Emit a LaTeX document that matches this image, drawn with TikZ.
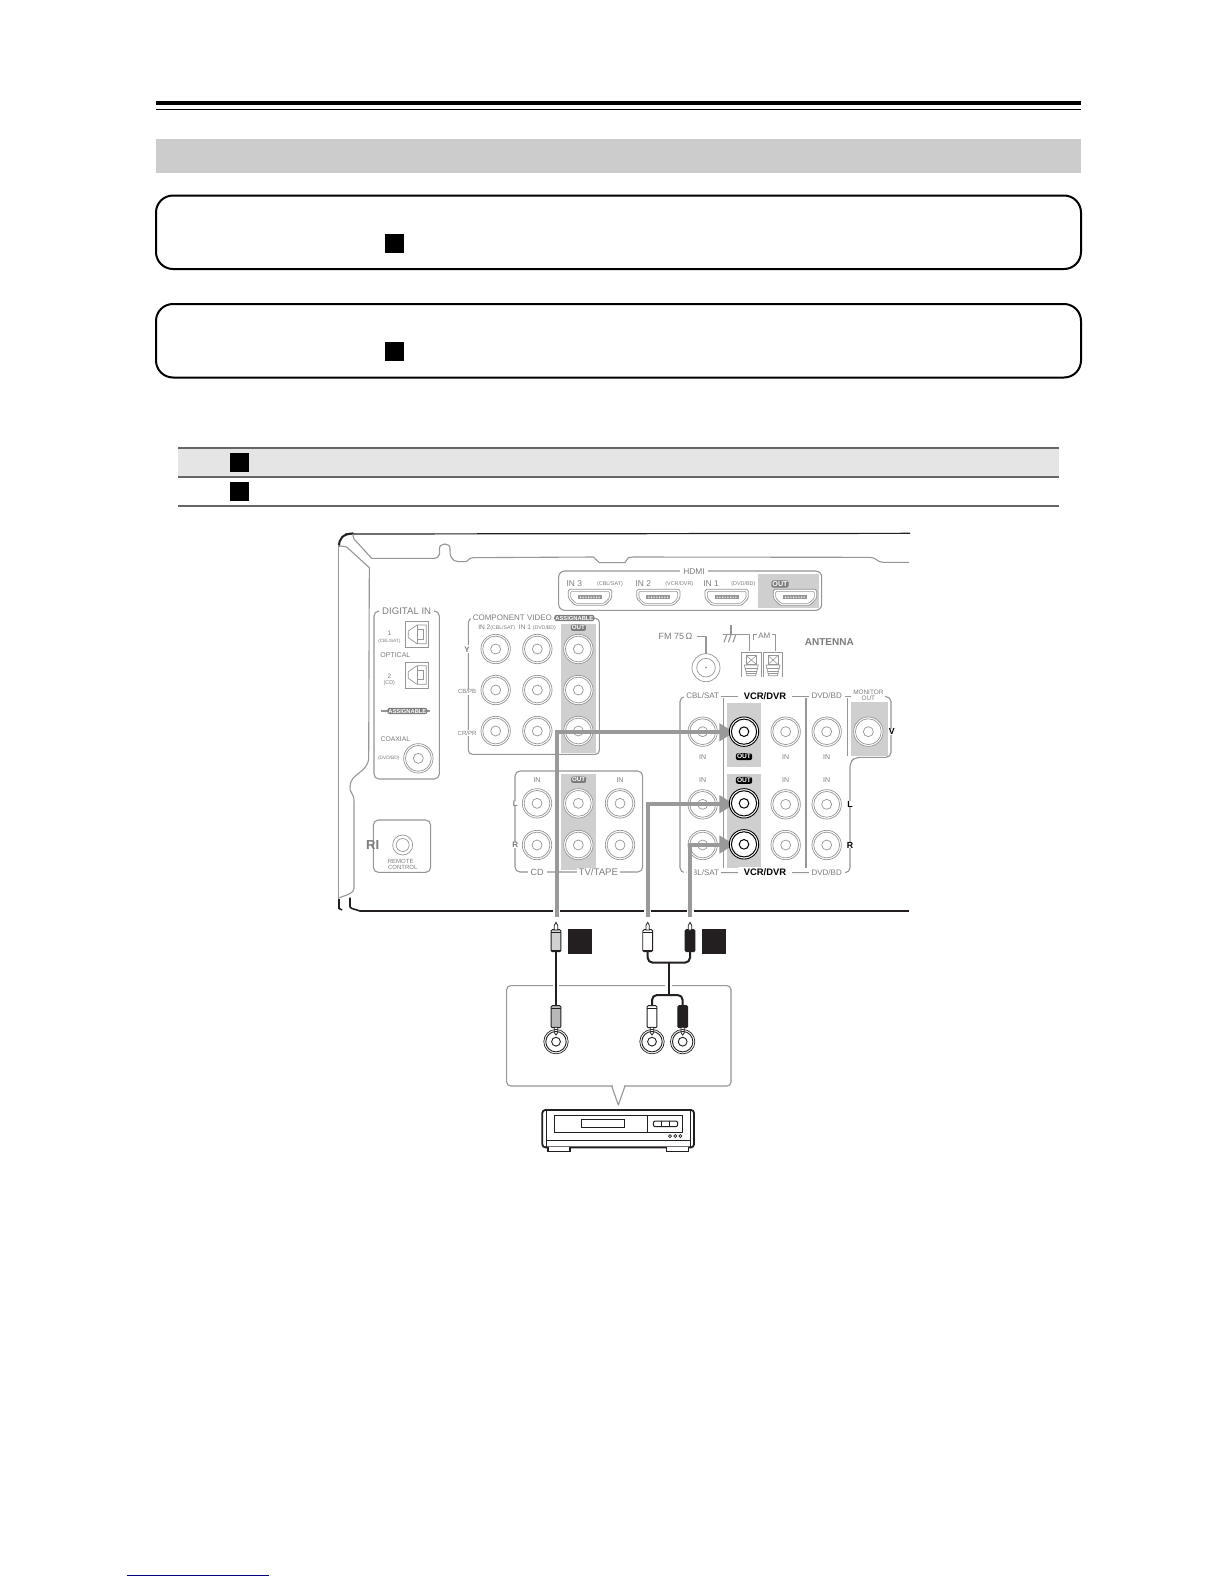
\documentclass[tikz,border=0pt]{standalone}
\usepackage{fontspec}
\setmainfont{Liberation Sans}
\usetikzlibrary{arrows.meta}
\definecolor{pg}{HTML}{7C7C7C}
\definecolor{pl}{HTML}{969696}
\definecolor{strip}{HTML}{CFCFCF}
\definecolor{arrowg}{HTML}{999999}
\definecolor{ink}{HTML}{231F20}
\newcounter{lc}
\newcommand{\fs}[1]{\fontsize{#1}{#1}\selectfont}
\tikzset{
  zA/.style={shift={(330,525)},x=0.16667pt,y=-0.16667pt},
  zB/.style={shift={(620,525)},x=0.16667pt,y=-0.16667pt},
  zC/.style={shift={(490,900)},x=0.16667pt,y=-0.16667pt},
  outl/.style={draw=pl,line width=0.55pt,line join=round},
  edge/.style={draw=ink,line width=0.6pt},
  lbl/.style={text=pg,inner sep=0pt,align=center},
  pill/.style={fill=pg,text=white,rounded corners=1pt,inner sep=0.5pt,font=\bfseries},
  bpill/.style={fill=black,text=white,rounded corners=1.2pt,inner sep=0.6pt,font=\bfseries},
  ringa/.style={circle,draw=pl,line width=0.35pt,inner sep=0pt,minimum size=#1},
  ringb/.style={circle,draw=black,line width=0.5pt,inner sep=0pt,minimum size=#1},
  cable/.style={draw=arrowg,line width=2pt,-{Triangle[length=7.5pt,width=8.6pt]},shorten >=4.8pt},
  cord/.style={draw=ink,line width=1pt,line join=round},
  plugbody/.style={draw=ink,line width=0.45pt,rounded corners=0.6pt,inner sep=0pt,minimum width=4.9pt,minimum height=11pt},
  blacksq/.style={fill=black,inner sep=0pt,minimum width=#1,minimum height=#1},
  inksq/.style={fill=ink,inner sep=0pt,minimum width=11.8pt,minimum height=12.3pt},
}
% gray jack
\newcommand{\jack}[2]{\stepcounter{lc}%
  \node[ringa=14.7pt,fill=white] (j\thelc) at (#1,#2) {};
  \node[ringa=12.9pt] (jm\thelc) at (#1,#2) {};
  \node[ringa=5pt] (ji\thelc) at (#1,#2) {};}
% black jack
\newcommand{\bjack}[2]{\stepcounter{lc}%
  \node[ringb=14.7pt,fill=white,line width=.45pt] (j\thelc) at (#1,#2) {};
  \node[ringb=12.6pt] (jm\thelc) at (#1,#2) {};
  \node[ringb=4.8pt] (ji\thelc) at (#1,#2) {};}
% small jack under the cables
\newcommand{\sjack}[2]{\stepcounter{lc}%
  \node[ringb=12.2pt,draw=ink,line width=.35pt] (j\thelc) at (#1,#2) {};
  \node[ringb=10.2pt,draw=ink,line width=.45pt] (jm\thelc) at (#1,#2) {};
  \node[ringb=4.4pt,draw=ink,line width=.45pt] (ji\thelc) at (#1,#2) {};}
\newcommand{\lab}[4][]{\stepcounter{lc}\node[lbl,font=\fs{#2},#1] (t\thelc) at (#4) {#3};}
\newcommand{\hdmi}[2]{%
  \draw[pl,line width=0.4pt,fill=white,rounded corners=0.8pt] (#1-65,#2-24) -- (#1+65,#2-24) -- (#1+65,#2+3) -- (#1+45,#2+24) -- (#1-45,#2+24) -- (#1-65,#2+3) -- cycle;
  \draw[pl,line width=0.3pt,rounded corners=0.6pt] (#1-58,#2-18) -- (#1+58,#2-18) -- (#1+58,#2+2) -- (#1+42,#2+18) -- (#1-42,#2+18) -- (#1-58,#2+2) -- cycle;
  \fill[pl] (#1-36,#2-6) rectangle (#1+36,#2+5);
  \fill[white] \foreach \k in {-30,-22,...,30} {(#1+\k,#2-2) rectangle ++(3,4)};}
\newcommand{\optical}[2]{%
  \draw[pl,line width=0.45pt] (#1,#2) rectangle ++(71,77);
  \draw[pl,line width=0.35pt] (#1+10,#2+28) -- (#1+36,#2+10) -- (#1+64,#2+10) -- (#1+64,#2+66) -- (#1+36,#2+66) -- (#1+10,#2+48) -- cycle;
  \draw[pl,line width=0.35pt] (#1+36,#2+24) -- (#1+54,#2+24) -- (#1+54,#2+52) -- (#1+36,#2+52) -- cycle;
  \draw[pl,line width=0.35pt] (#1+36,#2+10) -- (#1+36,#2+66);}
\newcommand{\terminal}[2]{%
  \draw[pl,line width=0.45pt] (#1,#2) -- (#1,#2+75) (#1+58,#2) -- (#1+58,#2+75) (#1,#2) -- (#1+58,#2);
  \draw[pl,line width=0.35pt] (#1+14,#2+10) rectangle (#1+44,#2+36);
  \draw[pl,line width=0.3pt] (#1+14,#2+10) -- (#1+44,#2+36) (#1+14,#2+36) -- (#1+44,#2+10);
  \draw[pl,line width=0.35pt] (#1+8,#2+38) -- (#1+50,#2+38) -- (#1+42,#2+70) -- (#1+16,#2+70) -- cycle;
  \draw[pl,line width=0.5pt] (#1+11,#2+48) -- (#1+47,#2+48) (#1+13,#2+56) -- (#1+45,#2+56) (#1+15,#2+64) -- (#1+43,#2+64);}
\begin{document}
\begin{tikzpicture}[x=0.5pt,y=-0.5pt]
\useasboundingbox (0,0) rectangle (1224,1584);
\fill[white] (0,0) rectangle (1224,1584);
% ---- page furniture
\fill[black] (156,101) rectangle (1081,105.5);
\fill[black] (156,108.8) rectangle (1081,110);
\fill[black!20] (156,139) rectangle (1081,172.7);
\draw[black,line width=1pt,rounded corners=8.5pt] (156,195.5) rectangle (1081,269);
\draw[black,line width=1pt,rounded corners=8.5pt] (156,304) rectangle (1081,377.5);
\node[blacksq=9.5pt] (sq1) at (394.5,243) {};
\node[blacksq=9.5pt] (sq2) at (394.5,351.5) {};
\fill[black!10] (178,448) rectangle (1058.5,477);
\draw[black!60,line width=0.9pt] (178,448) -- (1058.5,448) (178,477) -- (1058.5,477) (178,506) -- (1058.5,506);
\node[blacksq=9.5pt] (sq3) at (239.5,462.5) {};
\node[blacksq=9.5pt] (sq4) at (239.5,491.5) {};
\draw[blue!50!black,line width=0.6pt] (127,1575.3) -- (269,1575.3);
% ---- named ends of the long cables
\coordinate (cabA) at (556.5,917);
\coordinate (cabB) at (647.7,917);
\coordinate (cabC) at (690,917);
\coordinate (jvA) at (744,732.3);
\coordinate (jvL) at (744,804.2);
\coordinate (jvR) at (744,844.5);
% ---- left part of the panel
\begin{scope}[zA]
  % chassis
  \draw[edge] (45,27) -- (1740,25);
  \draw[draw=ink,line width=1pt] (27,65) .. controls (27,40) and (38,27) .. (70,25);
  \draw[edge] (90,1158) -- (1737,1158);
  \draw[outl] (25,60) -- (25,1125);
  \draw[draw=ink,line width=.8pt] (27,1122) -- (27,1150) -- (36,1155) (60,1118) -- (60,1145) .. controls (62,1152) and (75,1152) .. (90,1158);
  \draw[outl] (25,62) -- (50,66) -- (118,128) -- (116,700) .. controls (112,745) and (60,745) .. (60,785) .. controls (60,810) and (72,800) .. (72,830) -- (72,1090) .. controls (72,1105) and (50,1110) .. (28,1118);
  \draw[outl] (68,28) -- (72,42) -- (125,100) -- (310,100) .. controls (330,100) and (330,85) .. (328,72) .. controls (328,52) and (362,52) .. (360,72) .. controls (358,90) and (365,110) .. (385,110) -- (405,110) .. controls (415,110) and (415,98) .. (430,98) -- (790,96) -- (808,113) -- (885,113) -- (895,98) -- (909,96);
  % strips
  \fill[strip] (693,296) rectangle (798,684);
  \fill[strip] (693,748) rectangle (798,1035);
  % boxes
  \draw[outl,rounded corners=2.5pt] (132,258) rectangle (328,762);
  \draw[outl,rounded corners=2pt] (415,280) rectangle (808,688);
  \draw[outl,rounded corners=2.5pt] (555,738) rectangle (938,1041);
  \draw[outl,rounded corners=2.5pt] (130,885) rectangle (302,1042);
  \draw[outl,rounded corners=3pt] (686,138) rectangle (1475,256);
  \optical{225}{290}
  \optical{225}{412}
  % digital in
  \lab[fill=white,inner xsep=1.5pt]{4.8}{DIGITAL IN}{230,258}
  \lab{3.2}{1}{178,326}
  \lab{2.3}{(CBL/SAT)}{178,350}
  \lab{3.5}{OPTICAL}{196,391}
  \lab{3.2}{2}{178,453}
  \lab{2.7}{(CD)}{178,473}
  \draw[outl] (160,558) -- (300,558) (160,558) -- (152,558);
  \lab[pill,font=\fs{2.9}\bfseries]{2.9}{ASSIGNABLE}{232,558}
  \lab{3.4}{COAXIAL}{196,642}
  \lab{2.4}{(DVD/BD)}{176,700}
  \jack{265}{700}
  % component
  \lab[fill=white,inner xsep=1pt]{4}{COMPONENT VIDEO}{547,279}
  \lab[pill,font=\fs{2.9}\bfseries]{2.9}{ASSIGNABLE}{733,279}
  \lab{3.3}{IN 2}{463,308}
  \lab{2.6}{(CBL/SAT)}{518,308}
  \lab{3.3}{IN 1}{585,308}
  \lab{2.6}{(DVD/BD)}{643,308}
  \lab[pill,font=\fs{3.1}\bfseries]{3.1}{OUT}{745,308}
  \lab[fill=white,inner sep=0.6pt,font=\fs{4}\bfseries]{4}{Y}{411,373}
  \lab[fill=white,inner sep=0.4pt]{3}{CB/PB}{411,500}
  \lab[fill=white,inner sep=0.4pt]{3}{CR/PR}{411,624}
  \foreach \x in {497,622,745} {\foreach \y in {372,495,618} {\jack{\x}{\y}}}
  % cd - tv/tape
  \lab{3.5}{IN}{621,764}
  \lab[pill,font=\fs{3.1}\bfseries]{3.1}{OUT}{746,764}
  \lab{3.5}{IN}{870,764}
  \lab[fill=white,inner xsep=0.5pt,font=\fs{4}\bfseries]{4}{L}{556,835}
  \lab[fill=white,inner xsep=0.5pt,font=\fs{4}\bfseries]{4}{R}{556,960}
  \foreach \x in {621,745,870} {\foreach \y in {835,960} {\jack{\x}{\y}}}
  \lab[fill=white,inner xsep=1.5pt]{4.5}{CD}{621,1041}
  \lab[fill=white,inner xsep=1pt]{4.8}{TV/TAPE}{805,1041}
  % remote
  \node[ringa=10pt] (rem1) at (218,960) {};
  \node[ringa=6.5pt] (rem2) at (218,960) {};
  \lab[font=\fs{6.5}\bfseries]{6.5}{RI}{128,960}
  \lab{3}{REMOTE}{212,1010}
  \lab{3}{CONTROL}{218,1028}
  % hdmi in 3
  \lab{4.2}{IN 3}{733,177}
  \lab{2.7}{(CBL/SAT)}{840,177}
  \hdmi{780}{217}
\end{scope}
% ---- right part of the panel
\begin{scope}[zB]
  \draw[outl] (39,96) -- (750,97) .. controls (770,97) and (770,112) .. (790,112) -- (867,112);
  \fill[strip] (415,148) rectangle (597,250);
  \fill[strip] (320,535) rectangle (422,727);
  \fill[strip] (320,748) rectangle (422,1030);
  \fill[strip] (693,530) rectangle (805,692);
  \lab[fill=white,inner xsep=1.5pt]{4.2}{HDMI}{222,140}
  \lab{4.2}{IN 2}{70,177}
  \lab{2.7}{(VCR/DVR)}{178,177}
  \lab{4.2}{IN 1}{273,177}
  \lab{2.7}{(DVD/BD)}{370,177}
  \lab[pill,font=\fs{3.6}\bfseries]{3.6}{OUT}{480,177}
  \hdmi{115}{217}
  \hdmi{320}{217}
  \hdmi{525}{217}
  % antenna
  \lab[anchor=east]{4.5}{FM 75\,Ω}{218,333}
  \draw[outl] (230,335) -- (258,335) -- (258,388);
  \node[ringa=14pt] (fm1) at (258,428) {};
  \node[ringa=9.3pt] (fm2) at (258,428) {};
  \fill[pl] (258,428) circle (0.5pt);
  \draw[outl] (333,300) -- (333,328) (308,328) -- (360,328) -- (388,328) -- (388,378) (400,345) -- (400,328) -- (412,328) (455,328) -- (467,328) -- (467,378);
  \draw[outl] (320,330) -- (312,352) (333,330) -- (325,352) (347,330) -- (339,352);
  \lab{4}{AM}{433,332}
  \terminal{365}{382}
  \terminal{430}{382}
  \lab[font=\fs{5}\bfseries]{5}{ANTENNA}{628,352}
  % input group outline
  \draw[outl,rounded corners=2.5pt] (195,515) -- (180,515) -- (180,1043) -- (690,1043) -- (690,712) -- (705,697) -- (813,697) -- (813,515) -- (783,515);
  \draw[outl] (310,520) -- (310,1030) (558,520) -- (558,1030) (683,520) -- (683,692);
  \draw[outl] (195,515) -- (700,515);
  \lab[fill=white,inner xsep=1pt]{4}{CBL/SAT}{248,513}
  \lab[fill=white,text=black,font=\fs{4.7}\bfseries,inner xsep=3pt,inner ysep=1pt]{4.7}{VCR/DVR}{435,513}
  \lab[fill=white,inner xsep=1.5pt]{4}{DVD/BD}{620,513}
  \lab[fill=white,inner xsep=1pt]{3.2}{MONITOR\\[-0.2pt]OUT}{745,511}
  \lab[fill=white,inner xsep=1pt]{4}{CBL/SAT}{248,1043}
  \lab[fill=white,text=black,font=\fs{4.7}\bfseries,inner xsep=3pt,inner ysep=1pt]{4.7}{VCR/DVR}{435,1043}
  \lab[fill=white,inner xsep=1.5pt]{4}{DVD/BD}{620,1043}
  \foreach \x in {248,497,620} {\foreach \y in {620,838,960} {\jack{\x}{\y}}}
  \jack{745}{620}
  \foreach \x in {248,497,620} {\lab{3.5}{IN}{\x,695}\lab{3.5}{IN}{\x,765}}
  \lab[bpill,font=\fs{3.3}\bfseries]{3.3}{OUT}{372,695}
  \lab[bpill,font=\fs{3.3}\bfseries]{3.3}{OUT}{372,766}
  \lab[fill=white,text=black,font=\fs{4.4}\bfseries,inner xsep=0.6pt]{4.4}{V}{815,620}
  \lab[fill=white,text=black,font=\fs{4.4}\bfseries,inner xsep=0.6pt]{4.4}{L}{690,837}
  \lab[fill=white,text=black,font=\fs{4.4}\bfseries,inner xsep=0.6pt]{4.4}{R}{690,961}
\end{scope}
% ---- halos and long cables
\draw[white,line width=3.5pt] (556.5,906) -- (556.5,916) (647.7,906) -- (647.7,916) (690,906) -- (690,916) (690,862) -- (690,880);
\draw[cable] (cabA) |- (jvA);
\draw[cable] (cabB) |- (jvL);
\draw[cable] (cabC) |- (jvR);
\begin{scope}[zB]
  \foreach \y in {620,835,958} {\bjack{372}{\y}}
\end{scope}
% ---- player side
\begin{scope}[zC]
  % callout
  \draw[outl,fill=white,rounded corners=2pt] (50,257) rectangle (723,558);
  \draw[white,line width=1.2pt] (368,558) -- (402,558);
  \draw[outl] (365,558) -- (385,615) -- (405,558);
  \draw[white,line width=3.4pt] (198,248) -- (198,266) (536,248) -- (536,266);
  % squares
  \node[inksq] (sqA) at (269.5,124) {};
  \node[inksq] (sqB) at (672,124) {};
  % plugs, top row
  \node[plugbody,fill=black!18] (pA) at (198,122) {};
  \node[plugbody,fill=white] (pB) at (473,122) {};
  \node[plugbody,fill=ink] (pC) at (600,122) {};
  \foreach \x in {198,473,600} {
    \draw[draw=ink,line width=0.4pt,fill=white] (\x-5,90) -- (\x-5,76) -- (\x,67) -- (\x+5,76) -- (\x+5,90) -- cycle;
    \draw[draw=ink,line width=0.4pt,fill=white] (\x-15,96) -- (\x+15,96) (\x-15,150) -- (\x+15,150);
  }
  % plugs, bottom row
  \node[plugbody,fill=black!28] (qA) at (198,350) {};
  \node[plugbody,fill=white] (qB) at (486,350) {};
  \node[plugbody,fill=ink] (qC) at (578,350) {};
  \foreach \x in {198,486,578} {
    \draw[draw=ink,line width=0.4pt,fill=white] (\x-5,382) -- (\x-5,398) -- (\x,405) -- (\x+5,398) -- (\x+5,382) -- cycle;
    \draw[draw=ink,line width=0.4pt] (\x-14,324) -- (\x+14,324);
  }
  % cords
  \draw[cord] (pA.south) -- (qA.north);
  \coordinate (ya) at (536,188);
  \coordinate (yb) at (536,285);
  \draw[cord,rounded corners=2.5pt] (pB.south) -- (473,188) -- (ya) -- (600,188) -- (pC.south);
  \draw[cord] (ya) -- (yb);
  \draw[cord,rounded corners=2.5pt] (qB.north) -- (486,285) -- (yb) -- (578,285) -- (qC.north);
  % jacks
  \sjack{198}{425}
  \sjack{486}{425}
  \sjack{578}{425}
  % player
  \draw[draw=ink,line width=0.9pt,rounded corners=1.5pt] (157,630) rectangle (612,742);
  \draw[draw=ink,line width=0.4pt] (168,632) -- (168,740) (600,632) -- (600,740) (168,722) -- (600,722);
  \draw[draw=ink,line width=0.55pt] (193,647) rectangle (578,697) (472,647) -- (472,697);
  \draw[draw=ink,line width=0.5pt] (275,658) rectangle (404,683);
  \draw[draw=ink,line width=0.5pt,rounded corners=1pt] (490,663) rectangle (563,680);
  \draw[draw=ink,line width=0.5pt] (515,663) -- (515,680) (538,663) -- (538,680);
  \draw[draw=ink,line width=0.35pt] (540,708) circle (4.5) (556,708) circle (4.5) (571,708) circle (4.5);
  \fill[ink] (172,742) rectangle (242,757);
  \fill[ink] (527,742) rectangle (598,757);
  \fill[white] (176,742) rectangle (238,752);
  \fill[white] (531,742) rectangle (594,752);
\end{scope}
\end{tikzpicture}
\end{document}
